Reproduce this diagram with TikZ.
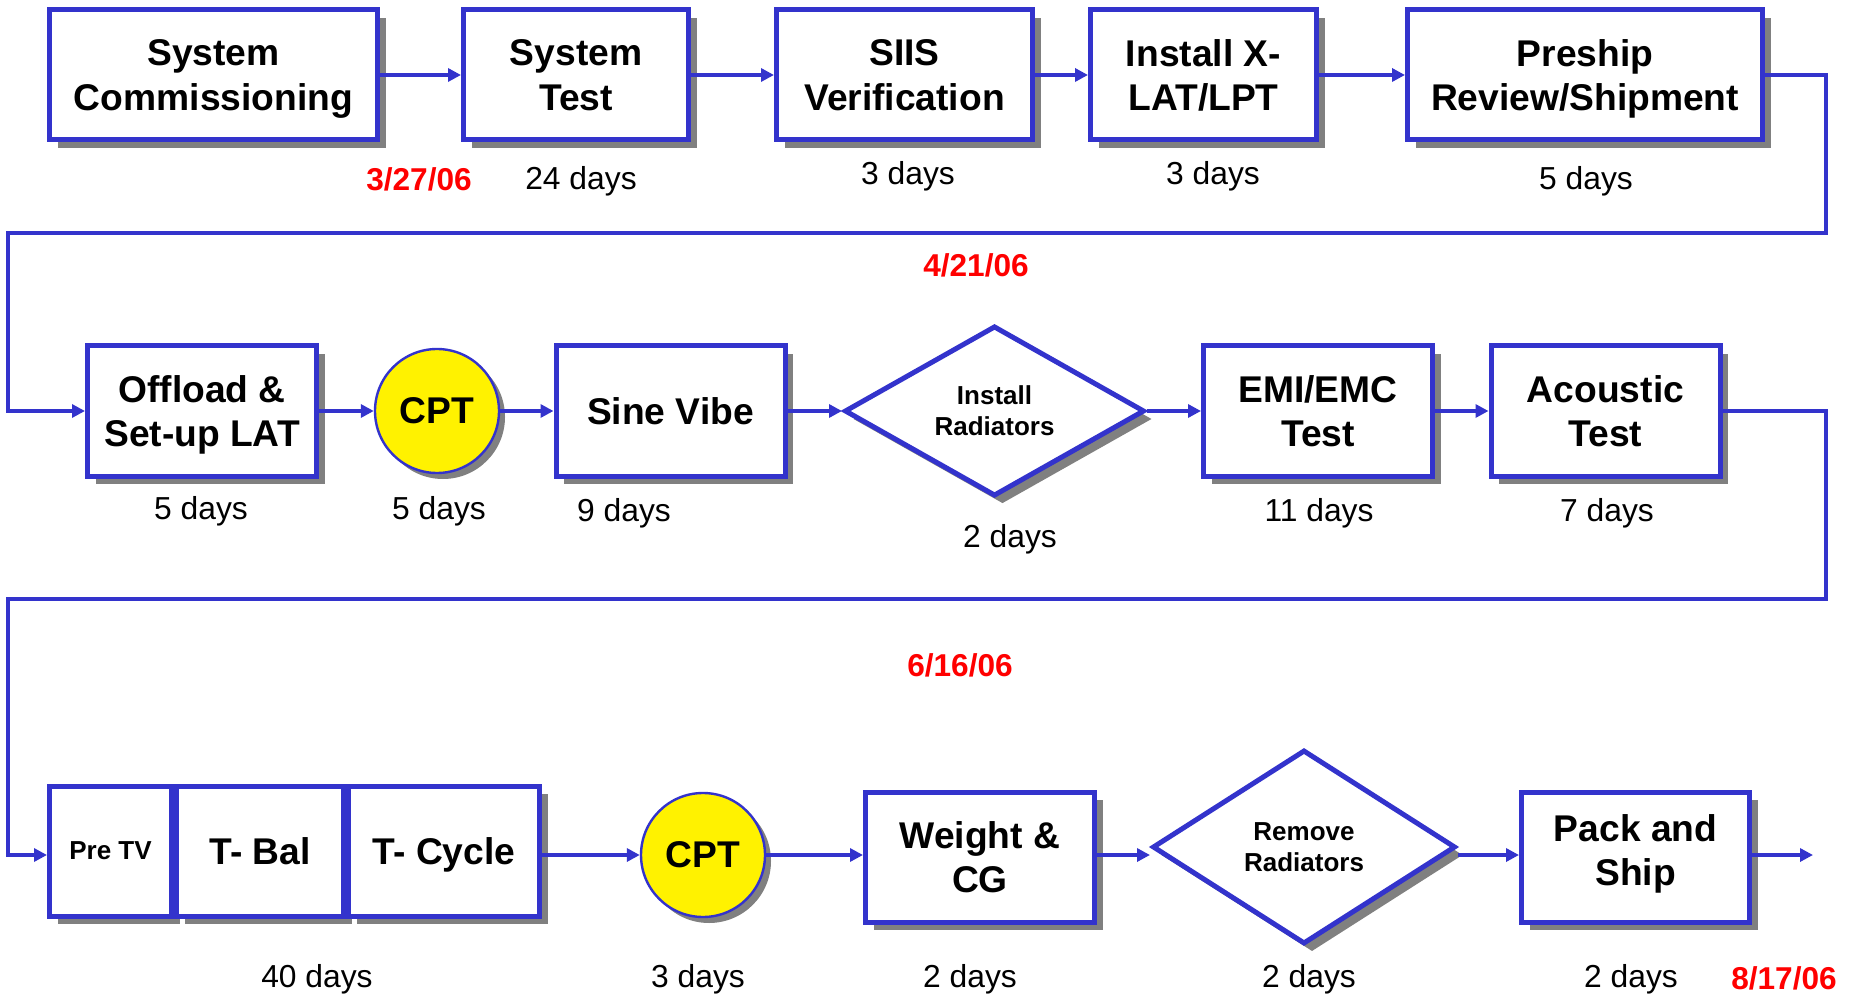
\documentclass[tikz,border=0pt]{standalone}
\usepackage{fontspec}
\setmainfont{Liberation Sans}
\usetikzlibrary{arrows.meta,shapes.geometric,shadows}
\definecolor{flowblue}{RGB}{51,51,204}
\definecolor{shade}{RGB}{128,128,128}
\definecolor{datered}{RGB}{255,0,0}
\tikzset{
  taskbox/.style={draw=flowblue, line width=2.5pt, fill=white, align=center,
    font=\fontsize{18.6}{22.3}\selectfont\bfseries, minimum height=65pt, inner sep=0pt,
    text depth=0pt,
    drop shadow={shadow xshift=4pt, shadow yshift=-4pt, fill=shade, opacity=1}},
  smallbox/.style={taskbox, font=\fontsize{13}{15.6}\selectfont\bfseries},
  checkbox/.style={diamond, draw=flowblue, line width=2.5pt, fill=white, align=center,
    font=\fontsize{13}{15.6}\selectfont\bfseries, inner sep=0pt,
    drop shadow={shadow xshift=4pt, shadow yshift=-4pt, fill=shade, opacity=1}},
  cptnode/.style={circle, draw=flowblue, line width=1.2pt, fill=yellow, minimum size=62pt,
    inner sep=0pt, font=\fontsize{18.6}{22.3}\selectfont\bfseries,
    drop shadow={shadow xshift=3pt, shadow yshift=-3pt, fill=shade, opacity=1}},
  flow/.style={draw=flowblue, line width=2pt, -{Triangle[length=6.5pt,width=6.5pt]}},
  dayslbl/.style={font=\fontsize{15.9}{19}\selectfont},
  datelbl/.style={text=datered, font=\fontsize{15.8}{19}\selectfont\bfseries},
}
\begin{document}
\begin{tikzpicture}[x=0.5pt, y=-0.5pt]
\useasboundingbox (0,0) rectangle (1852,994);
% row 1
\node[taskbox, minimum width=164pt] (comm) at (213.5,75) {System\\Commissioning};
\node[taskbox, minimum width=112.5pt] (systest) at (576,75) {System\\Test};
\node[taskbox, minimum width=128pt] (siis) at (904.5,75) {SIIS\\Verification};
\node[taskbox, minimum width=113pt] (xlat) at (1203.5,75) {Install X-\\LAT/LPT};
\node[taskbox, minimum width=177.5pt] (preship) at (1585,75) {Preship\\Review/Shipment};
\draw[flow] (comm) -- (systest);
\draw[flow] (systest) -- (siis);
\draw[flow] (siis) -- (xlat);
\draw[flow] (xlat) -- (preship);
\node[datelbl] (date_a) at (419,179) {3/27/06};
\node[dayslbl] (dur_systest) at (581,181) {24 days};
\node[dayslbl] (dur_siis) at (908,176) {3 days};
\node[dayslbl] (dur_xlat) at (1213,176) {3 days};
\node[dayslbl] (dur_preship) at (1586,181) {5 days};
\coordinate (turn_r1) at (1826,233);
\coordinate (turn_l1) at (8,233);
\node[datelbl] (date_b) at (976,265) {4/21/06};
% row 2
\node[taskbox, minimum width=114.5pt] (offload) at (202,411) {Offload \&\\Set-up LAT};
\node[cptnode] (cpt_a) at (437,411) {CPT};
\node[taskbox, minimum width=114.5pt] (sine) at (670.5,411) {Sine Vibe};
\node[checkbox, minimum width=150pt, minimum height=82pt] (instrad) at (994.5,411) {Install\\Radiators};
\node[taskbox, minimum width=114.5pt] (emi) at (1318,411) {EMI/EMC\\Test};
\node[taskbox, minimum width=114.5pt] (acoustic) at (1605.5,411) {Acoustic\\Test};
\draw[flow] (preship.east) -| (turn_r1) -- (turn_l1) |- (offload);
\draw[flow] (offload) -- (cpt_a);
\draw[flow] (cpt_a) -- (sine);
\draw[flow] (sine) -- (instrad);
\draw[flow] (instrad) -- (emi);
\draw[flow] (emi) -- (acoustic);
\node[dayslbl] (dur_offload) at (201,511) {5 days};
\node[dayslbl] (dur_cpt_a) at (439,511) {5 days};
\node[dayslbl] (dur_sine) at (624,513) {9 days};
\node[dayslbl] (dur_instrad) at (1010,539) {2 days};
\node[dayslbl] (dur_emi) at (1319,513) {11 days};
\node[dayslbl] (dur_acoustic) at (1607,513) {7 days};
\coordinate (turn_r2) at (1826,599);
\coordinate (turn_l2) at (8,599);
\node[datelbl] (date_c) at (960,665) {6/16/06};
% row 3
\node[smallbox, minimum width=61pt] (pretv) at (110.5,851) {Pre TV};
\node[taskbox, minimum width=83.5pt] (tbal) at (260,851) {T- Bal};
\node[taskbox, minimum width=95.5pt] (tcycle) at (444,851) {T- Cycle};
\node[cptnode] (cpt_b) at (703,855) {CPT};
\node[taskbox, minimum width=114.5pt] (weight) at (980,857) {Weight \&\\CG};
\node[checkbox, minimum width=151.5pt, minimum height=97pt] (remrad) at (1304,847) {Remove\\Radiators};
\node[taskbox, minimum width=114pt, text depth=7pt] (pack) at (1635.5,857) {Pack and\\Ship};
\coordinate (done) at (1813,855);
\draw[flow] (acoustic.east) -| (turn_r2) -- (turn_l2) |- (pretv.west |- cpt_b);
\draw[flow] (tcycle.east |- cpt_b) -- (cpt_b);
\draw[flow] (cpt_b) -- (cpt_b -| weight.west);
\draw[flow] (weight.east |- cpt_b) -- (cpt_b -| remrad.west);
\draw[flow] (remrad.east |- cpt_b) -- (cpt_b -| pack.west);
\draw[flow] (pack.east |- cpt_b) -- (done);
\node[dayslbl] (dur_tv) at (317,979) {40 days};
\node[dayslbl] (dur_cpt_b) at (698,979) {3 days};
\node[dayslbl] (dur_weight) at (970,979) {2 days};
\node[dayslbl] (dur_remrad) at (1309,979) {2 days};
\node[dayslbl] (dur_pack) at (1631,979) {2 days};
\node[datelbl] (date_d) at (1784,978) {8/17/06};
\end{tikzpicture}
\end{document}
